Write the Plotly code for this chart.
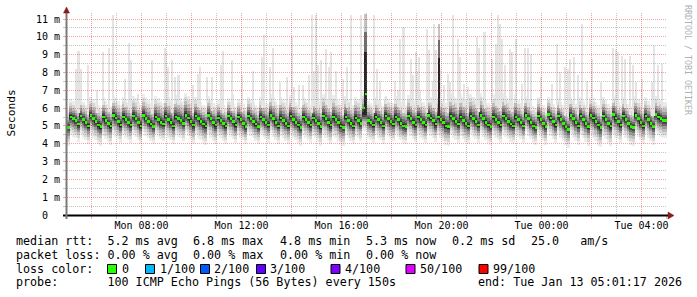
import plotly.graph_objects as go
from datetime import datetime, timedelta

# ---------------- data ----------------
END_TIME = datetime(2026, 1, 13, 5, 1, 17)
START_TIME = END_TIME - timedelta(hours=24)
STEP_MIN = 6  # one median value every 6 minutes

median_ms = [
    4.90,
    5.50, 5.40, 5.30, 5.10,
    5.55, 5.35, 5.20, 5.00,
    5.60, 5.40, 5.25, 5.05, 4.95,
    5.50, 5.30, 5.15, 5.00,
    5.60, 5.45, 5.25, 5.05,
    5.50, 5.35, 5.20, 5.05,
    5.55, 5.40, 5.20, 5.00,
    5.60, 5.40, 5.25, 5.10, 4.95,
    5.50, 5.35, 5.20, 5.10,
    5.55, 5.35, 5.20, 5.00,
    5.50, 5.40, 5.30, 5.15,
    5.60, 5.45, 5.25, 5.05,
    5.55, 5.40, 5.25, 5.10, 5.00,
    5.60, 5.40, 5.20, 5.05,
    # 60
    5.45, 5.30, 5.15, 5.00,
    5.55, 5.40, 5.25, 5.05,
    5.50, 5.35, 5.15, 4.95,
    5.55, 5.40, 5.25, 5.10, 4.95,
    5.50, 5.35, 5.20, 5.05,
    5.60, 5.40, 5.20, 5.00,
    5.45, 5.30, 5.15, 5.00,
    5.55, 5.35, 5.20, 5.05, 4.90,
    5.50, 5.35, 5.20, 5.05,
    5.45, 5.30, 5.15, 4.95,
    5.55, 5.40, 5.20, 5.05,
    5.50, 5.35, 5.20, 5.00, 4.90,
    5.50, 5.30, 5.15, 5.00,
    5.45, 5.30, 5.15, 6.00, 6.80,
    # 120
    5.30, 5.20, 5.05,
    5.50, 5.35, 5.20, 5.00,
    5.55, 5.40, 5.25, 5.10,
    5.50, 5.35, 5.15, 5.00, 4.95,
    5.55, 5.40, 5.20, 5.05,
    5.50, 5.35, 5.20, 5.05,
    5.60, 5.45, 5.30, 5.10,
    5.50, 5.35, 5.20, 5.00, 4.95,
    5.55, 5.40, 5.25, 5.10,
    5.50, 5.30, 5.15, 5.00,
    5.55, 5.40, 5.25, 5.05,
    5.60, 5.40, 5.20, 5.05, 4.95,
    5.50, 5.35, 5.20, 5.05,
    5.55, 5.40, 5.25, 5.10, 5.00,
    5.50,
    # 180
    5.35, 5.20, 5.00,
    5.60, 5.40, 5.20, 5.00, 4.90,
    5.55, 5.35, 5.15, 4.95,
    5.65, 5.45, 5.25, 5.05,
    5.55, 5.35, 5.15, 4.95, 4.80,
    5.60, 5.40, 5.20, 5.00,
    5.55, 5.35, 5.15, 4.95,
    5.60, 5.45, 5.25, 5.05, 4.90,
    5.55, 5.35, 5.15, 5.00,
    5.65, 5.45, 5.25, 5.05,
    5.55, 5.35, 5.15, 4.95, 4.90,
    5.60, 5.40, 5.20, 5.00,
    5.55, 5.35, 5.15, 4.95,
    5.65, 5.50, 5.40, 5.30, 5.30,
]

# spread of the ping cloud below / above the median, per hour (ms)
hour_lo_spread = [1.00, 1.05, 1.00, 0.95, 1.00, 1.05, 1.00, 0.95, 1.00, 1.00, 1.05, 1.00,
                  1.00, 0.95, 1.00, 1.05, 1.00, 1.00, 0.95, 1.00, 1.05, 1.10, 1.00, 1.00]
hour_hi_spread = [1.00, 1.10, 1.15, 1.20, 1.25, 1.10, 1.00, 1.10, 1.20, 1.15, 1.25, 1.20,
                  1.10, 1.20, 1.15, 1.30, 1.25, 1.30, 1.10, 1.00, 1.05, 1.10, 1.10, 1.05]

# isolated slow pings (hours after start, ms)
spike_hours = [0.36, 0.45, 0.49, 0.57, 0.83, 1.21, 1.45, 1.69, 1.85, 2.33, 2.47, 2.56, 2.83,
               3.41, 3.93, 3.96, 4.04, 4.20, 4.32, 4.44, 4.49, 5.03, 5.24, 5.33, 5.61, 5.81,
               6.17, 6.24, 6.60, 6.65, 7.00, 7.45, 7.80, 7.88, 8.12, 8.25, 8.52, 8.79, 9.00,
               9.09, 9.27, 9.45, 9.69, 9.79, 9.89, 9.95, 10.03, 10.17, 10.36, 10.47, 10.55,
               10.76, 11.03, 11.21, 11.35, 11.76,
               12.29, 12.39, 12.52, 12.75, 13.12, 13.23, 13.33, 13.44, 13.49, 13.76, 13.85,
               13.95, 14.03, 14.09, 14.12, 14.39, 14.49, 14.63, 14.69, 14.75, 14.93, 15.09,
               15.23, 15.33, 15.43, 15.65, 15.72, 15.89, 16.03, 16.39, 16.48, 16.67, 16.72,
               17.01, 17.15, 17.25, 17.32, 17.41, 17.52, 17.72, 17.81, 17.96, 18.19, 18.32,
               18.45, 18.56, 18.96, 19.39, 19.60, 19.73, 19.92, 20.05, 20.11, 20.28, 20.45,
               20.61, 20.79, 20.99, 21.36, 21.85, 21.95, 22.05, 22.21, 22.32, 22.52, 22.65,
               22.75, 22.99, 23.41, 23.47, 23.65, 23.79]
spike_top_ms = [8.2, 9.2, 9.2, 8.2, 8.4, 7.0, 9.15, 9.4, 11.2, 7.65, 9.65, 8.7, 6.8,
                8.7, 9.4, 9.15, 8.3, 8.7, 7.75, 7.85, 7.85, 7.3, 7.9, 8.3, 7.75, 7.75,
                8.4, 9.2, 8.7, 6.8, 7.85, 8.1, 8.85, 10.1, 8.3, 9.4, 7.45, 7.75, 10.0,
                7.2, 7.3, 7.3, 7.85, 11.2, 8.1, 11.2, 8.4, 8.7, 9.3, 8.3, 9.15,
                8.1, 7.65, 8.3, 11.2, 11.2,
                11.2, 8.2, 7.55, 6.7, 7.55, 7.0, 9.9, 10.55, 10.55, 8.75, 7.85,
                9.15, 8.1, 8.85, 7.0, 10.45, 9.25, 7.55, 10.75, 9.25, 8.2, 7.3,
                7.9, 7.45, 11.2, 9.9, 8.85, 7.35, 7.2, 10.0, 9.4, 10.25, 10.25,
                8.75, 9.6, 11.2, 10.75, 9.9, 8.4, 9.3, 9.15, 9.9, 7.35, 9.4,
                9.4, 9.05, 7.75, 7.35, 9.6, 8.05, 8.3, 8.2, 8.75, 8.85, 7.85,
                10.75, 7.55, 8.75, 7.45, 9.4, 9.3, 9.15, 8.95, 8.75, 8.95, 8.4,
                7.45, 7.65, 7.45, 9.5, 8.4, 8.5]

# columns where most pings of the step were slow
dark_spike_hours = [11.95, 14.90]
dark_spike_top_ms = [11.3, 10.75]

x_tick_times = ["2026-01-12 08:00", "2026-01-12 12:00", "2026-01-12 16:00",
                "2026-01-12 20:00", "2026-01-13 00:00", "2026-01-13 04:00"]
x_tick_text = ["Mon 08:00", "Mon 12:00", "Mon 16:00", "Mon 20:00", "Tue 00:00", "Tue 04:00"]
y_tick_vals = list(range(12))
y_tick_text = ["0\u00a0\u00a0"] + [f"{v}\u00a0m" for v in range(1, 12)]

loss_labels = ["0", "1/100", "2/100", "3/100", "4/100", "50/100", "99/100"]
loss_colors = ["#26ff00", "#00b8ff", "#0059ff", "#5e00ff", "#7e00ff", "#dd00ff", "#ff0000"]

legend_line1 = ["median rtt:  5.2 ms avg", "6.8 ms max", "4.8 ms min", "5.3 ms now",
                "0.2 ms sd", "25.0   am/s"]
legend_line2 = ["packet loss: 0.00 % avg", "0.00 % max", "0.00 % min", "0.00 % now"]
probe_text = "probe:       100 ICMP Echo Pings (56 Bytes) every 150s"
end_text = "end: Tue Jan 13 05:01:17 2026"

# ---------------- styles / geometry ----------------
W, H = 697, 297
L, R, T, B = 67, 30, 13, 82
PW, PH = W - L - R, H - T - B
Y_MAX = 11.34
MONO = "DejaVu Sans Mono"
SMOKE_FRACS = [1.0, 0.8, 0.62, 0.45, 0.31, 0.19, 0.09]
SMOKE_COLORS = ["#ececec", "#d8d8d8", "#bdbdbd", "#9a9a9a", "#727272", "#4a4a4a", "#282828"]
RED_GRID = "rgba(235,0,0,0.36)"
GRAY_GRID = "rgba(120,120,120,0.42)"
SMOKE_CENTER_CAP = 5.7   # the cloud itself stays put when only a few pings are slow


def px(p):
    return (p - L) / PW


def ppy(q):
    return (T + PH - q) / PH


def nb(s):
    return s.replace(" ", "\u00a0")


n = len(median_ms)
step_ms = STEP_MIN * 60 * 1000
centers = [START_TIME + timedelta(minutes=STEP_MIN * (i + 0.5)) for i in range(n)]
hour_of = [min(int(i * STEP_MIN / 60), 23) for i in range(n)]
smoke_center = [min(m, SMOKE_CENTER_CAP) for m in median_ms]

fig = go.Figure()

# smoke (ping cloud), outer light to inner dark
for frac, col in zip(SMOKE_FRACS, SMOKE_COLORS):
    base, hgt = [], []
    for i, c in enumerate(smoke_center):
        lo = c - frac * hour_lo_spread[hour_of[i]]
        hi = c + frac * hour_hi_spread[hour_of[i]]
        base.append(lo)
        hgt.append(hi - lo)
    fig.add_bar(x=centers, y=hgt, base=base, width=[step_ms * 1.02] * n,
                marker=dict(color=col, line_width=0), hoverinfo="skip", showlegend=False)

# isolated slow pings
sx, sb, sh = [], [], []
for hrs, top in zip(spike_hours, spike_top_ms):
    i = min(int(hrs * 60 / STEP_MIN), n - 1)
    b0 = smoke_center[i] + 0.6 * hour_hi_spread[hour_of[i]]
    sx.append(START_TIME + timedelta(hours=hrs))
    sb.append(b0)
    sh.append(top - b0)
fig.add_bar(x=sx, y=sh, base=sb, width=[170000] * len(sx),
            marker=dict(color="#e4e4e4", line_width=0), hoverinfo="skip", showlegend=False)

# dark columns
dark_layers = [(0.0, 1.0, "#c4c4c4"), (0.0, 0.82, "#6e6e6e"), (0.0, 0.62, "#262626")]
for f0, f1, col in dark_layers:
    dx, db, dh = [], [], []
    for hrs, top in zip(dark_spike_hours, dark_spike_top_ms):
        b0 = 5.6
        dx.append(START_TIME + timedelta(hours=hrs))
        db.append(b0 + f0 * (top - b0))
        dh.append((f1 - f0) * (top - b0))
    fig.add_bar(x=dx, y=dh, base=db, width=[230000] * len(dx),
                marker=dict(color=col, line_width=0), hoverinfo="skip", showlegend=False)

# median
fig.add_bar(x=centers, y=[0.15] * n, base=[m - 0.075 for m in median_ms],
            width=[step_ms] * n, marker=dict(color=loss_colors[0], line_width=0),
            hoverinfo="skip", showlegend=False)

# grid subplot drawn on top of the data
fig.add_scatter(x=[START_TIME], y=[0], xaxis="x2", yaxis="y2", mode="markers",
                marker=dict(opacity=0), hoverinfo="skip", showlegend=False)

major_x = [datetime(2026, 1, 12, 6) + timedelta(hours=2 * k) for k in range(12)]
minor_x = [datetime(2026, 1, 12, 7) + timedelta(hours=2 * k) for k in range(12)]
major_y = list(range(0, 12))
minor_y = [k + 0.5 for k in range(11)]

tickfont = dict(family=MONO, size=10, color="black")
fig.update_layout(
    width=W, height=H, margin=dict(l=L, r=R, t=T, b=B, pad=0),
    paper_bgcolor="white", plot_bgcolor="rgba(0,0,0,0)",
    barmode="overlay", bargap=0, showlegend=False,
    xaxis=dict(type="date", range=[START_TIME, END_TIME], domain=[0, 1], anchor="y",
               showgrid=False, zeroline=False, showline=False, tickmode="array",
               tickvals=x_tick_times, ticktext=x_tick_text, ticks="", tickfont=tickfont,
               ticklabelstandoff=3, fixedrange=True),
    yaxis=dict(range=[0, Y_MAX], domain=[0, 1], anchor="x", showgrid=False, zeroline=False,
               showline=False, tickmode="array", tickvals=y_tick_vals, ticktext=y_tick_text,
               ticks="", tickfont=tickfont, ticklabelstandoff=6, fixedrange=True),
    xaxis2=dict(type="date", range=[START_TIME, END_TIME], domain=[0, 1], anchor="y2",
                showgrid=True, gridcolor=RED_GRID, griddash="1px,1px", gridwidth=1,
                zeroline=False, showline=False, tickmode="array", tickvals=major_x,
                showticklabels=False, ticks="outside", ticklen=3, tickcolor=RED_GRID,
                minor=dict(tickmode="array", tickvals=minor_x, showgrid=True,
                           gridcolor=GRAY_GRID, griddash="1px,1px", gridwidth=1,
                           ticks="outside", ticklen=3, tickcolor=GRAY_GRID),
                fixedrange=True),
    yaxis2=dict(range=[0, Y_MAX], domain=[0, 1], anchor="x2", showgrid=True,
                gridcolor=RED_GRID, griddash="1px,1px", gridwidth=1, zeroline=False,
                showline=False, tickmode="array", tickvals=major_y, showticklabels=False,
                ticks="outside", ticklen=3, tickcolor=RED_GRID,
                minor=dict(tickmode="array", tickvals=minor_y, showgrid=True,
                           gridcolor=GRAY_GRID, griddash="1px,1px", gridwidth=1,
                           ticks="outside", ticklen=3, tickcolor=GRAY_GRID),
                fixedrange=True),
)

shapes = []
# axes
shapes.append(dict(type="line", xref="paper", yref="paper", x0=px(63), x1=px(669),
                   y0=ppy(215.5), y1=ppy(215.5), line=dict(color="black", width=2), layer="above"))
shapes.append(dict(type="line", xref="paper", yref="paper", x0=px(66.5), x1=px(66.5),
                   y0=ppy(219), y1=ppy(11), line=dict(color="#7a7a7a", width=2), layer="above"))
# arrows
shapes.append(dict(type="path", xref="paper", yref="paper",
                   path=f"M {px(668)} {ppy(212)} L {px(674)} {ppy(215.5)} L {px(668)} {ppy(219)} Z",
                   fillcolor="#8b1a1a", line=dict(color="#8b1a1a", width=0.5), layer="above"))
shapes.append(dict(type="path", xref="paper", yref="paper",
                   path=f"M {px(63.5)} {ppy(13)} L {px(66.5)} {ppy(7)} L {px(69.5)} {ppy(13)} Z",
                   fillcolor="#8b1a1a", line=dict(color="#8b1a1a", width=0.5), layer="above"))

annotations = []


def text(xp, yp, s, size=11.7, anchor="left", color="black", angle=0, yanchor="middle"):
    annotations.append(dict(xref="paper", yref="paper", x=px(xp), y=ppy(yp), text=nb(s),
                            showarrow=False, xanchor=anchor, yanchor=yanchor, textangle=angle,
                            font=dict(family=MONO, size=size, color=color),
                            borderpad=0, borderwidth=0))


# y title and watermark
text(11, 113.5, "Seconds", size=11.2, anchor="center", angle=-90)
text(688, 60, "RRDTOOL / TOBI OETIKER", size=8.3, anchor="center", color="#b0b0b0", angle=90)

# legend
line_y = [240.7, 254.6, 268.6, 282.0]
for xp, s in zip([16, 193, 280, 366, 452, 530.5], legend_line1):
    text(xp, line_y[0], s)
for xp, s in zip([16, 193, 280, 366], legend_line2):
    text(xp, line_y[1], s)
text(16, line_y[2], "loss color:")
box_x = [107.5, 145.5, 200.5, 256.5, 331, 406, 479]
lab_x = [121.7, 159.6, 214, 270, 345, 420.5, 493]
for bx, lx, lab, col in zip(box_x, lab_x, loss_labels, loss_colors):
    shapes.append(dict(type="rect", xref="paper", yref="paper", x0=px(bx), x1=px(bx + 9),
                       y0=ppy(264.5), y1=ppy(273.5), fillcolor=col,
                       line=dict(color="black", width=1), layer="above"))
    text(lx, line_y[2], lab)
text(16, line_y[3], probe_text)
text(681.5, line_y[3], end_text, anchor="right")

fig.update_layout(shapes=shapes, annotations=annotations)
fig.write_html("out.html")
